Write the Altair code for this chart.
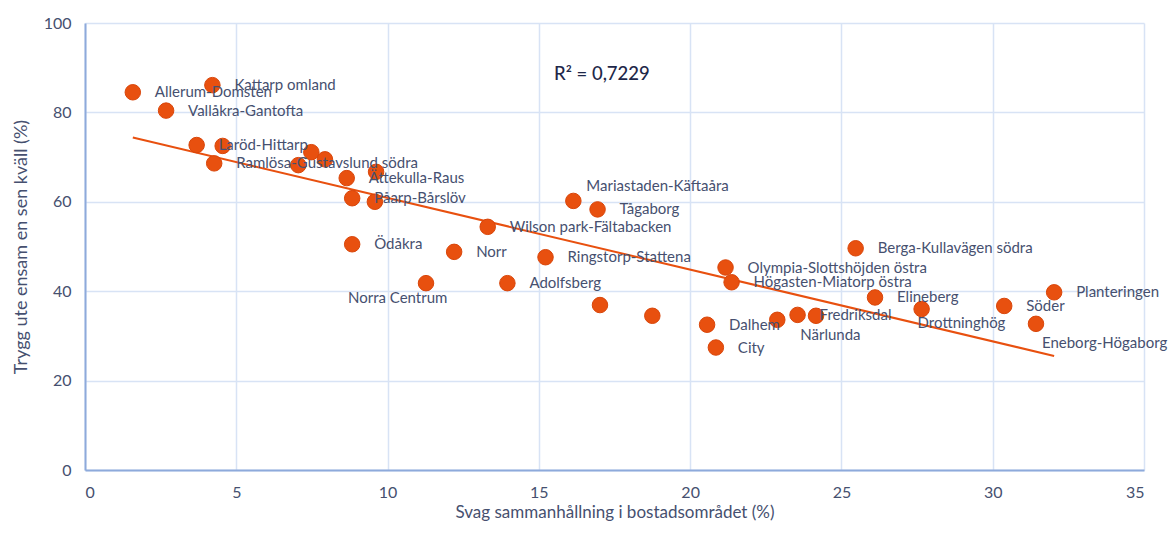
import altair as alt
import pandas as pd

names = [
    "Allerum-Domsten", "Kattarp omland", "Vallåkra-Gantofta", "Laröd-Hittarp", "p5",
    "Ramlösa-Gustavslund södra", "p7", "p8", "p9", "Ättekulla-Raus", "p11",
    "Påarp-Bårslöv", "p13", "Mariastaden-Käftaåra", "Tågaborg", "Wilson park-Fältabacken",
    "Ödåkra", "Norr", "Ringstorp-Stattena", "Norra Centrum", "Adolfsberg", "p22", "p23",
    "Olympia-Slottshöjden östra", "Högasten-Miatorp östra", "Dalhem", "City", "Närlunda",
    "Fredriksdal", "p30", "Berga-Kullavägen södra", "Elineberg", "Drottninghög", "Söder",
    "Planteringen", "Eneborg-Högaborg",
]
cohesion = [
    1.58, 4.21, 2.68, 3.69, 4.55, 4.27, 7.05, 7.48, 7.93, 8.65, 9.62, 8.83, 9.58,
    16.14, 16.94, 13.31, 8.83, 12.2, 15.22, 11.27, 13.96, 17.02, 18.75, 21.17, 21.37,
    20.56, 20.85, 22.88, 23.55, 24.16, 25.47, 26.11, 27.65, 30.38, 32.03, 31.43,
]
safety = [
    84.5, 86.1, 80.4, 72.7, 72.5, 68.6, 68.2, 71.1, 69.5, 65.3, 66.7, 60.8, 60.0,
    60.2, 58.3, 54.4, 50.5, 48.8, 47.6, 41.8, 41.8, 36.9, 34.5, 45.3, 42.0,
    32.5, 27.4, 33.6, 34.7, 34.5, 49.6, 38.6, 36.0, 36.7, 39.75, 32.7,
]
r2_text = ["R² = 0,7229"]
r2_x = [15.5]
r2_y = [88.6]

df = pd.DataFrame({"name": names, "x": cohesion, "y": safety})
df["label"] = [n if not n.startswith("p") or n in ("Påarp-Bårslöv", "Planteringen") else "" for n in names]

FONT = "Lato"
TXT = "#46506F"
ORANGE = "#E8500F"

xs = alt.Scale(domain=[0, 35], nice=False)
ys = alt.Scale(domain=[0, 100], nice=False)

base = alt.Chart(df)

points = base.mark_circle(size=240, color=ORANGE, opacity=1, stroke="#D9460A", strokeWidth=1).encode(
    x=alt.X("x:Q", scale=xs, title="Svag sammanhållning i bostadsområdet (%)",
            axis=alt.Axis(values=[0, 5, 10, 15, 20, 25, 30, 35], titleFontSize=17, titlePadding=4)),
    y=alt.Y("y:Q", scale=ys, title="Trygg ute ensam en sen kväll (%)",
            axis=alt.Axis(values=[0, 20, 40, 60, 80, 100], titleFontSize=18, titlePadding=13)),
)

trend = base.transform_regression("x", "y").mark_line(color=ORANGE, strokeWidth=2).encode(
    x=alt.X("x:Q", scale=xs), y=alt.Y("y:Q", scale=ys)
)

special = {
    "Mariastaden-Käftaåra": (13, -15),
    "Norra Centrum": (-78, 15),
    "Närlunda": (23, 15),
    "Drottninghög": (-4, 14),
    "Eneborg-Högaborg": (6, 19),
}

def label_layer(data_filter, dx, dy):
    return base.transform_filter(data_filter).mark_text(
        align="left", baseline="middle", dx=dx, dy=dy, font=FONT, fontSize=15, color=TXT
    ).encode(x=alt.X("x:Q", scale=xs), y=alt.Y("y:Q", scale=ys), text="label:N")

special_names = list(special.keys())
default_filter = "datum.label != '' && indexof(" + str(special_names).replace('"', "'") + ", datum.label) < 0"
layers = [trend, points, label_layer(default_filter, 22, 0)]
for nm, (dx, dy) in special.items():
    layers.append(label_layer(alt.datum.label == nm, dx, dy))

r2 = alt.Chart(pd.DataFrame({"t": r2_text, "x": r2_x, "y": r2_y})).mark_text(
    align="left", baseline="middle", font=FONT, fontSize=18.5, fontWeight=500, color="#1E2749"
).encode(x=alt.X("x:Q", scale=xs), y=alt.Y("y:Q", scale=ys), text="t:N")
layers.append(r2)

chart = alt.layer(*layers).properties(
    width=1059, height=447,
    autosize=alt.AutoSizeParams(type="none"),
    padding={"left": 77, "top": 15, "right": 24, "bottom": 51},
).configure_view(stroke=None).configure_axis(
    domainColor="#8EAADB", domainWidth=2, gridColor="#D8E3F5", gridWidth=1.5,
    ticks=False, labelFont=FONT, labelFontSize=16, labelColor=TXT, labelPadding=14,
    titleFont=FONT, titleColor=TXT, titleFontWeight="normal",
)

chart.save("out.html", embed_options={"renderer": "svg", "actions": False})
